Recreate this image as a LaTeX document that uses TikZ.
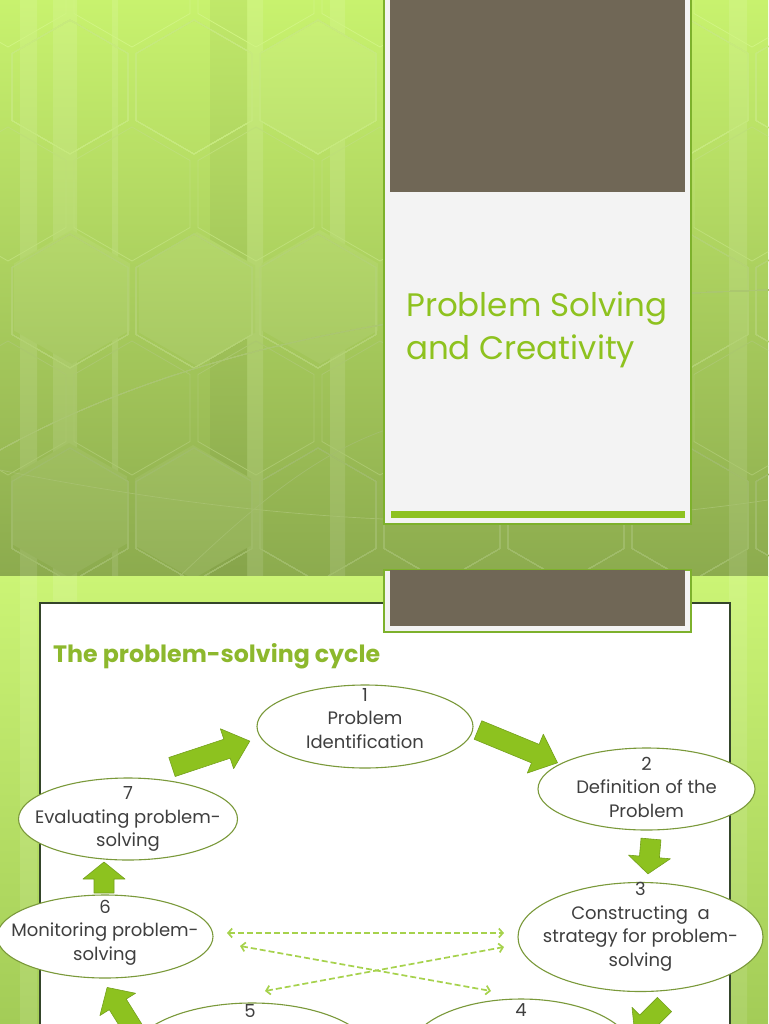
\documentclass[tikz,border=0pt]{standalone}
\usepackage{fontspec}
\setmainfont{Poppins}
\usetikzlibrary{shapes.geometric,arrows.meta}
\definecolor{bgtop}{HTML}{C8F26E}
\definecolor{bgbot}{HTML}{8CAB4E}
\definecolor{bgtwo}{HTML}{CBF475}
\definecolor{bgtwob}{HTML}{A3CC57}
\definecolor{cardgray}{HTML}{F3F3F3}
\definecolor{cardbrown}{HTML}{706756}
\definecolor{lime}{HTML}{8EC21F}
\definecolor{cardedge}{HTML}{7DB12C}
\definecolor{titlegreen}{HTML}{8DB82D}
\definecolor{ellline}{HTML}{7A993A}
\definecolor{txt}{HTML}{3F3F3F}
\definecolor{dashgreen}{HTML}{A6D24C}
\definecolor{arrowfill}{HTML}{8DC21F}
\definecolor{arrowedge}{HTML}{74A01C}
\definecolor{boxedge}{HTML}{34452A}
% hexagon outline, colour taken from the background gradient at its centre
\newcommand\hexa[2]{%
  \pgfmathtruncatemacro\hp{max(0,min(100,100-(#2)/5.76))}%
  \colorlet{hexc}{bgtop!\hp!bgbot!86!white}%
  \draw[hexc,line width=0.8] (#1,#2) +(30:67) -- +(90:67) -- +(150:67) -- +(210:67) -- +(270:67) -- +(330:67) -- cycle;}
% lighter filled hexagon
\newcommand\hexf[2]{%
  \pgfmathtruncatemacro\hpt{max(0,min(100,100-(#2-67)/5.76))}%
  \pgfmathtruncatemacro\hpb{max(0,min(100,100-(#2+67)/5.76))}%
  \colorlet{hext}{bgtop!\hpt!bgbot!94!white}%
  \colorlet{hexb}{bgtop!\hpb!bgbot!94!white}%
  \shade[top color=hext,bottom color=hexb] (#1,#2) +(30:67) -- +(90:67) -- +(150:67) -- +(210:67) -- +(270:67) -- +(330:67) -- cycle;}
\newcommand\barrow[4]{%
  \begin{scope}[shift={(#1)},rotate=#2]
    \draw[blockarr] (0,-10) -- ({#3-#4},-10) -- ({#3-#4},-21) -- (#3,0) -- ({#3-#4},21) -- ({#3-#4},10) -- (0,10) -- cycle;
  \end{scope}}
\begin{document}
\begin{tikzpicture}[x=1pt,y=-1pt,
  blockarr/.style={fill=arrowfill,draw=arrowedge,line width=0.6,line join=round},
  ell/.style={ellipse,draw=ellline,line width=1.1,fill=white,inner sep=0pt},
  etext/.style={text=txt,align=center,font=\fontsize{18}{23.5}\selectfont},
  numtext/.style={text=txt,inner sep=0pt,anchor=base,font=\fontsize{18}{20}\selectfont},
  dasharr/.style={draw=dashgreen,line width=1.7,dash pattern=on 6pt off 3pt,
    {Straight Barb[length=4pt,width=9pt]}-{Straight Barb[length=4pt,width=9pt]}}]
\useasboundingbox (0,0) rectangle (768,1024);

% ---------- slide 1 background ----------
\shade[top color=bgtop,bottom color=bgbot] (0,0) rectangle (768,576);
\begin{scope}
  \clip (0,0) rectangle (768,576);
  \foreach \a/\b in {20/37,53/77,112/118,247/263,330/345,729/747}
    \shade[top color=bgtop!90!white,bottom color=bgbot!90!white] (\a,0) rectangle (\b,576);
  \shade[top color=bgtop!96!black,bottom color=bgbot!96!black] (210,0) rectangle (247,576);
  \hexf{318}{87}
  \hexf{72}{297}
  \hexf{197}{299}
  \hexf{320}{297}
  \hexf{69}{510}
  \hexf{193}{512}
  \foreach \yy in {-20,194,408}
    \foreach \xx in {8,132,256,380,504,628,752}
      \hexa{\xx}{\yy}
  \foreach \yy in {87,301,515}
    \foreach \xx in {70,194,318,442,566,690,814}
      \hexa{\xx}{\yy}
  \draw[bgtop!25!bgbot!84!white,line width=0.7] (0,450) .. controls (200,340) and (450,300) .. (768,290);
  \draw[bgtop!15!bgbot!84!white,line width=0.7] (0,470) .. controls (250,520) and (500,540) .. (768,500);
  \draw[bgtop!10!bgbot!84!white,line width=0.7] (180,576) .. controls (260,500) and (330,440) .. (420,420);
\end{scope}

% ---------- slide 1 card ----------
\fill[cardgray,draw=cardedge,line width=1.3] (384,-2) rectangle (691,524);
\fill[cardbrown] (390,-2) rectangle (685,192);
\fill[lime] (391,511) rectangle (685,518);
\node[anchor=base west,text=lime,inner sep=0pt,font=\fontsize{32.5}{40}\selectfont]
  (title1a) at (406,316) {Problem Solving};
\node[anchor=base west,text=lime,inner sep=0pt,font=\fontsize{32.5}{40}\selectfont]
  (title1b) at (406,359) {and Creativity};

% ---------- slide 2 background ----------
\shade[top color=bgtwo,bottom color=bgtwob] (0,576) rectangle (768,1024);
\foreach \a/\b in {20/37,53/77,729/747}
  \shade[top color=bgtwo!90!white,bottom color=bgtwob!90!white] (\a,576) rectangle (\b,1024);

% white content box
\draw[draw=boxedge,line width=1.2,fill=white] (40,603) rectangle (730,1034);

% slide 2 card
\fill[cardgray,draw=cardedge,line width=1.3] (384,570) rectangle (691,632);
\fill[cardbrown] (390,570) rectangle (685,626);

\node[anchor=base west,text=titlegreen,inner sep=0pt,
      font=\fontsize{23.7}{28}\selectfont\bfseries] (title2) at (53,662)
  {The problem-solving cycle};

% ---------- block arrows ----------
\barrow{172,767}{18.4}{82}{24}
\barrow{478,730}{-22.4}{86}{24}
\barrow{651,839}{-95}{35}{17}
\barrow{664.5,1004.5}{-135}{42}{17}
\barrow{140,1040}{122}{62}{20}
\barrow{104,893}{90}{31}{17}

% ---------- ellipses ----------
\node[ell,minimum width=216,minimum height=83] (e1) at (365,726.5) {};
\node[etext] (t1) at ([yshift=8]e1.center) {1\\Problem\\Identification};

\node[ell,minimum width=217,minimum height=82] (e2) at (646.5,789) {};
\node[etext] (t2) at ([yshift=2]e2.center) {2\\Definition of the\\Problem};

\node[ell,minimum width=245,minimum height=109] (e3) at (640.5,937) {};
\node[etext] (t3) at ([yshift=10]e3.center) {3\\Constructing\ \ a\\strategy for problem-\\solving};

\node[ell,minimum width=226,minimum height=110] (e4) at (521,1054) {};
\node[numtext] (t4) at (521,1016) {4};

\node[ell,minimum width=244,minimum height=110] (e5) at (252,1058) {};
\node[numtext] (t5) at (250,1017) {5};

\node[ell,minimum width=216,minimum height=83] (e6) at (105,936.5) {};
\node[etext] (t6) at ([yshift=4]e6.center) {6\\Monitoring problem-\\solving};

\node[ell,minimum width=219,minimum height=82] (e7) at (128,819) {};
\node[etext] (t7) at (e7.center) {7\\Evaluating problem-\\solving};

% ---------- dashed arrows ----------
\coordinate (hL) at (227,933);
\coordinate (hR) at (504,933);
\coordinate (dAL) at (240,946);
\coordinate (dAR) at (491,991);
\coordinate (dBL) at (265,991);
\coordinate (dBR) at (504,947);
\draw[dasharr] (hL) -- (hR);
\draw[dasharr] (dAL) -- (dAR);
\draw[dasharr] (dBL) -- (dBR);
\end{tikzpicture}
\end{document}
